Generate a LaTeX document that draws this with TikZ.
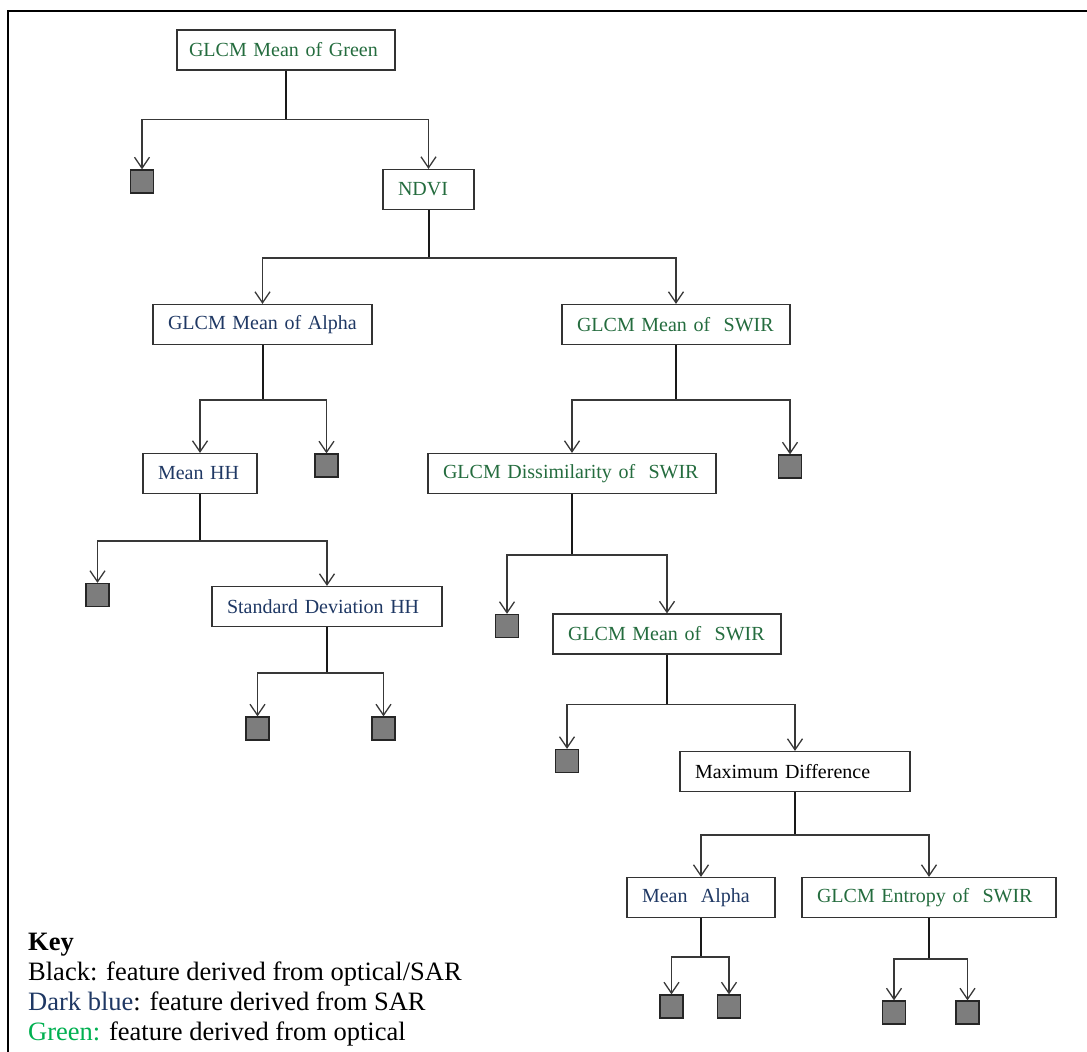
\documentclass[tikz,border=0pt]{standalone}
\usepackage{fontspec}
\setmainfont{Liberation Serif}
\usepackage{tikz}
\usetikzlibrary{arrows.meta}
\definecolor{optgreen}{RGB}{36,108,62}
\definecolor{sarblue}{RGB}{31,56,100}
\definecolor{keygreen}{RGB}{0,176,80}
\definecolor{leafgray}{RGB}{125,125,125}
\tikzset{
	box/.style={draw=black!80, line width=1.2pt, inner xsep=15pt, inner ysep=0pt, minimum height=40pt, align=left, font=\fontsize{20}{24}\selectfont},
	leaf/.style={draw=black!85, line width=1.3pt, fill=leafgray, minimum size=23pt, inner sep=0pt},
	stem/.style={line width=2pt, color=black!90},
	branch/.style={line width=1.5pt, color=black!78, -{Straight Barb[length=11pt, width=15pt, line width=1.3pt]}},
	keytext/.style={anchor=base west, inner sep=0pt, font=\fontsize{26.5}{30}\selectfont}
}
% parent, drop to the split, left child, right child
\def\fork(#1:#2)(#3)(#4){\draw[stem] (#1.south) -- ++(0,#2) coordinate (#1j); \draw[branch] (#1j) -| (#3.north); \draw[branch] (#1j) -| (#4.north);}

\begin{document}
\begin{tikzpicture}[x=1pt, y=-1pt]
		%%%%% START %%%%%
		\useasboundingbox (0,0) rectangle (1087,1052);
		\draw[line width=2pt] (8,1052) -- (8,11) -- (1087,11);
		
		\node[box, text width=194pt, inner xsep=12pt, text=optgreen] (meangreen) at (286,50) {GLCM Mean of Green};
		\node[box, text width=61pt, text=optgreen] (ndvi) at (428.5,189.5) {NDVI};
		\node[box, text width=189pt, text=sarblue] (meanalpha) at (262.5,324.5) {GLCM Mean of Alpha};
		\node[box, text width=198pt, text=optgreen] (meanswir) at (676,324.5) {GLCM Mean of~ SWIR};
		\node[box, text width=84pt, text=sarblue] (meanhh) at (200,473.5) {Mean HH};
		\node[box, text width=258pt, text=optgreen] (dissim) at (572,473.5) {GLCM Dissimilarity of~ SWIR};
		\node[box, text width=200pt, text=sarblue] (sdhh) at (327,606.5) {Standard Deviation HH};
		\node[box, text width=198pt, text=optgreen] (meanswirb) at (667,634) {GLCM Mean of~ SWIR};
		\node[box, text width=200pt] (maxdiff) at (795,771.5) {Maximum Difference};
		\node[box, text width=118pt, text=sarblue] (meanalp) at (701,897.5) {Mean~ Alpha};
		\node[box, text width=224pt, text=optgreen] (entropy) at (929,897.5) {GLCM Entropy of~ SWIR};
		
		\node[leaf] (l1) at (142,181.5) {};
		\node[leaf] (l2) at (326.5,465.5) {};
		\node[leaf] (l3) at (790,466.5) {};
		\node[leaf] (l4) at (97.5,595) {};
		\node[leaf] (l5) at (507,626) {};
		\node[leaf] (l6) at (257.5,728.5) {};
		\node[leaf] (l7) at (383.5,728.5) {};
		\node[leaf] (l8) at (567,761) {};
		\node[leaf] (l9) at (671.5,1006.5) {};
		\node[leaf] (l10) at (729,1006.5) {};
		\node[leaf] (l11) at (894,1012.5) {};
		\node[leaf] (l12) at (967.5,1012.5) {};
		
		\fork(meangreen:49)(l1)(ndvi)
		\fork(ndvi:48)(meanalpha)(meanswir)
		\fork(meanalpha:55)(meanhh)(l2)
		\fork(meanswir:55)(dissim)(l3)
		\fork(meanhh:47)(l4)(sdhh)
		\fork(sdhh:46)(l6)(l7)
		\fork(dissim:61)(l5)(meanswirb)
		\fork(meanswirb:50)(l8)(maxdiff)
		\fork(maxdiff:43)(meanalp)(entropy)
		\fork(meanalp:39)(l9)(l10)
		\fork(entropy:41)(l11)(l12)
		
		\node[keytext] (keyhead) at (28,950) {\bfseries Key};
		\node[keytext] (keyblack) at (28,980) {Black: feature derived from optical/SAR};
		\node[keytext] (keyblue) at (28,1010) {\textcolor{sarblue}{Dark blue}: feature derived from SAR};
		\node[keytext] (keygreen) at (28,1040) {\textcolor{keygreen}{Green:} feature derived from optical};
		%%%%% END %%%%%
	\end{tikzpicture}
\end{document}
